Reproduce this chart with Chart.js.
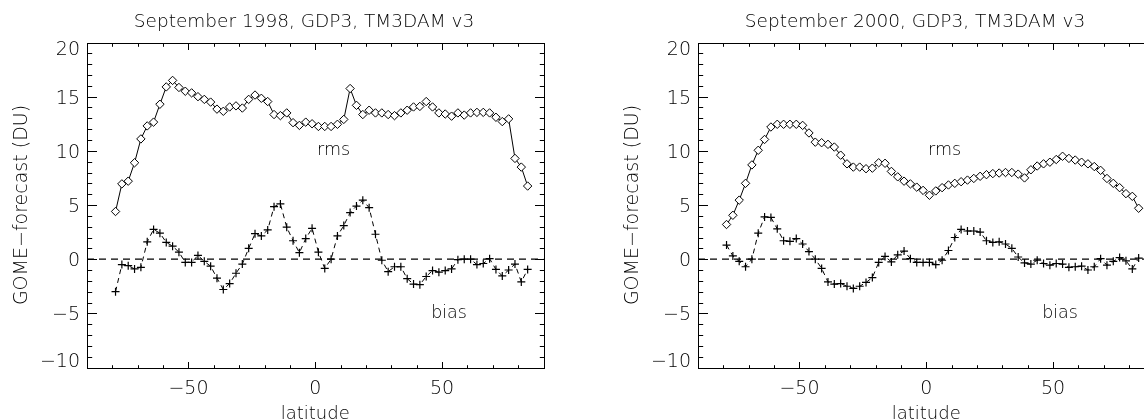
<!DOCTYPE html>
<html>
<head>
<meta charset="utf-8">
<script src="https://cdn.jsdelivr.net/npm/chart.js@4.4.0/dist/chart.umd.min.js"></script>
<style>
  html, body { margin: 0; padding: 0; background: #fff; overflow: hidden; }
  #wrap { position: relative; width: 1144px; height: 419px; overflow: hidden; }
  .panel { position: absolute; top: 0; width: 608px; height: 440px; }
  #p1 { left: 0; }
  #p2 { left: 611px; }
</style>
</head>
<body>
<div id="wrap">
  <div class="panel" id="p1"><canvas id="c1" width="608" height="440"></canvas></div>
  <div class="panel" id="p2"><canvas id="c2" width="608" height="440"></canvas></div>
</div>
<script>
// ── data ────────────────────────────────────────────────
const latitude = [-78.75, -76.25, -73.75, -71.25, -68.75, -66.25, -63.75, -61.25, -58.75, -56.25,
  -53.75, -51.25, -48.75, -46.25, -43.75, -41.25, -38.75, -36.25, -33.75, -31.25,
  -28.75, -26.25, -23.75, -21.25, -18.75, -16.25, -13.75, -11.25, -8.75, -6.25,
  -3.75, -1.25, 1.25, 3.75, 6.25, 8.75, 11.25, 13.75, 16.25, 18.75,
  21.25, 23.75, 26.25, 28.75, 31.25, 33.75, 36.25, 38.75, 41.25, 43.75,
  46.25, 48.75, 51.25, 53.75, 56.25, 58.75, 61.25, 63.75, 66.25, 68.75,
  71.25, 73.75, 76.25, 78.75, 81.25, 83.75];

const rms1998 = [4.4, 6.95, 7.2, 8.9, 11.1, 12.3, 12.65, 14.3, 15.9, 16.5,
  15.85, 15.5, 15.35, 15.0, 14.75, 14.5, 13.85, 13.65, 14.05, 14.15,
  13.95, 14.75, 15.15, 14.85, 14.55, 13.35, 13.25, 13.5, 12.6, 12.35,
  12.65, 12.5, 12.25, 12.25, 12.25, 12.45, 12.9, 15.75, 14.2, 13.35,
  13.75, 13.5, 13.5, 13.35, 13.25, 13.5, 13.75, 14.05, 14.1, 14.55,
  14.05, 13.5, 13.4, 13.2, 13.5, 13.3, 13.5, 13.55, 13.55, 13.5,
  13.1, 12.7, 12.95, 9.3, 8.5, 6.75];

const bias1998 = [-3.0, -0.5, -0.6, -0.9, -0.75, 1.6, 2.75, 2.4, 1.55, 1.2,
  0.65, -0.3, -0.3, 0.35, -0.2, -0.65, -1.75, -2.8, -2.25, -1.3,
  -0.45, 1.0, 2.35, 2.15, 2.7, 4.85, 5.1, 2.95, 1.7, 0.6,
  1.9, 2.85, 0.65, -0.85, 0.0, 2.15, 3.1, 4.3, 4.9, 5.45,
  4.75, 2.3, -0.1, -1.15, -0.7, -0.7, -1.8, -2.3, -2.35, -1.6,
  -1.05, -1.2, -1.05, -0.9, -0.05, 0.0, 0.0, -0.5, -0.4, 0.05,
  -0.95, -1.55, -1.0, -0.45, -2.1, -0.95];

const rms2000 = [3.2, 4.05, 5.45, 7.0, 8.7, 10.05, 11.05, 12.2, 12.45, 12.45,
  12.45, 12.45, 12.35, 11.65, 10.8, 10.75, 10.6, 10.35, 9.6, 8.8,
  8.5, 8.5, 8.35, 8.4, 8.9, 8.85, 8.1, 7.6, 7.2, 6.95,
  6.65, 6.35, 5.9, 6.3, 6.6, 6.85, 7.0, 7.15, 7.3, 7.45,
  7.65, 7.8, 7.9, 7.95, 8.0, 8.0, 7.85, 7.5, 8.25, 8.6,
  8.8, 8.95, 9.2, 9.5, 9.3, 9.15, 8.95, 8.8, 8.55, 8.2,
  7.45, 7.0, 6.6, 6.05, 5.8, 4.7];

const bias2000 = [1.3, 0.3, -0.2, -0.7, 0.0, 2.4, 3.9, 3.85, 2.8, 1.7,
  1.65, 1.9, 1.4, 0.7, 0.0, -0.85, -2.1, -2.3, -2.25, -2.5,
  -2.7, -2.5, -2.15, -1.7, -0.3, 0.25, -0.25, 0.4, 0.75, 0.05,
  -0.3, -0.3, -0.3, -0.5, -0.1, 0.8, 2.0, 2.75, 2.6, 2.6,
  2.5, 1.7, 1.55, 1.6, 1.4, 1.0, 0.2, -0.35, -0.45, -0.1,
  -0.4, -0.55, -0.4, -0.45, -0.75, -0.7, -0.65, -1.0, -0.7, 0.05,
  -0.55, -0.2, 0.15, -0.15, -0.9, 0.1];

const xTickValues = [-50, 0, 50];
const yTickValues = [-10, -5, 0, 5, 10, 15, 20];
const zeroLineX = [-90, 90];

// text labels placed in data coordinates (latitude, DU)
const rmsLabel = { text: "rms", lat: 0.7, du: 10 };
const biasLabel = { text: "bias", lat: 45.7, du: -5 };

// ── style ───────────────────────────────────────────────
const FONT = "'DejaVu Sans', sans-serif";
const WEIGHT = "200";
const INK = "#000";

function fmt(v) {
  return v < 0 ? "\u2212" + Math.abs(v) : String(v);
}

// box, inward IDL-style ticks, y labels and series names
const frameAndTicks = {
  id: "frameAndTicks",
  afterDatasetsDraw(chart) {
    const { ctx, chartArea: a, scales: { x, y } } = chart;
    const L = Math.round(a.left) + 0.5;
    const R = Math.round(a.right) + 0.5;
    const T = Math.round(a.top) + 0.5;
    const B = Math.round(a.bottom) + 0.5;

    ctx.save();
    ctx.strokeStyle = INK;
    ctx.lineWidth = 1;
    ctx.strokeRect(L, T, R - L, B - T);

    ctx.beginPath();
    // x ticks every 10 deg, major every 50
    for (let v = -80; v <= 80; v += 10) {
      const px = Math.round(x.getPixelForValue(v)) + 0.5;
      const len = v % 50 === 0 ? 6.5 : 3.3;
      ctx.moveTo(px, B); ctx.lineTo(px, B - len);
      ctx.moveTo(px, T); ctx.lineTo(px, T + len);
    }
    // y ticks every 1 DU, major every 5
    for (let v = -9; v <= 19; v += 1) {
      const py = Math.round(y.getPixelForValue(v)) + 0.5;
      const len = v % 5 === 0 ? 9.5 : 4.7;
      ctx.moveTo(L, py); ctx.lineTo(L + len, py);
      ctx.moveTo(R, py); ctx.lineTo(R - len, py);
    }
    ctx.stroke();

    // y tick labels (end labels pulled inside the axis range)
    ctx.fillStyle = INK;
    ctx.font = WEIGHT + " 19px " + FONT;
    ctx.textAlign = "right";
    ctx.textBaseline = "middle";
    yTickValues.forEach(function (v) {
      let py = y.getPixelForValue(v) + 2;
      if (v === y.max) py += 6;
      if (v === y.min) py -= 7;
      ctx.fillText(fmt(v), a.left - 7, py);
    });

    ctx.font = WEIGHT + " 17.5px " + FONT;
    ctx.textAlign = "left";
    [rmsLabel, biasLabel].forEach(function (lb) {
      ctx.fillText(lb.text, x.getPixelForValue(lb.lat), y.getPixelForValue(lb.du));
    });
    ctx.restore();
  }
};

function makePanel(canvasId, title, rms, bias) {
  return new Chart(document.getElementById(canvasId), {
    type: "line",
    data: {
      datasets: [
        {
          label: "zero",
          data: zeroLineX.map(function (v) { return { x: v, y: 0 }; }),
          borderColor: INK,
          borderWidth: 1.1,
          borderDash: [7, 5],
          pointRadius: 0
        },
        {
          label: "bias",
          data: latitude.map(function (lat, i) { return { x: lat, y: bias[i] }; }),
          borderColor: INK,
          borderWidth: 1,
          borderDash: [5, 4],
          pointStyle: "cross",
          pointRadius: 4,
          pointBorderColor: INK,
          pointBorderWidth: 1.2
        },
        {
          label: "rms",
          data: latitude.map(function (lat, i) { return { x: lat, y: rms[i] }; }),
          borderColor: INK,
          borderWidth: 1,
          pointStyle: "rectRot",
          pointRadius: 4.2,
          pointBackgroundColor: "#fff",
          pointBorderColor: INK,
          pointBorderWidth: 1
        }
      ]
    },
    options: {
      responsive: false,
      animation: false,
      devicePixelRatio: 1,
      layout: { padding: 0, autoPadding: false },
      plugins: {
        legend: { display: false },
        tooltip: { enabled: false },
        title: {
          display: true,
          text: title,
          color: INK,
          font: { family: FONT, size: 18.5, weight: WEIGHT },
          padding: { top: 11, bottom: 9.3 }
        }
      },
      scales: {
        x: {
          type: "linear",
          min: -90,
          max: 90,
          afterBuildTicks: function (s) { s.ticks = xTickValues.map(function (v) { return { value: v }; }); },
          afterFit: function (s) { s.height = 440 - 367.5; },
          grid: { display: false, drawTicks: false },
          border: { display: false },
          ticks: {
            color: INK,
            font: { family: FONT, size: 19, weight: WEIGHT },
            padding: 10,
            maxRotation: 0,
            autoSkip: false,
            callback: function (v) { return fmt(v); }
          },
          title: {
            display: true,
            text: "latitude",
            color: INK,
            font: { family: FONT, size: 18, weight: WEIGHT },
            padding: { top: 0, bottom: 14.5 }
          }
        },
        y: {
          type: "linear",
          min: -10,
          max: 20,
          afterFit: function (s) { s.width = 87; },
          grid: { display: false, drawTicks: false },
          border: { display: false },
          ticks: { display: false },
          title: {
            display: true,
            text: "GOME\u2212forecast (DU)",
            color: INK,
            font: { family: FONT, size: 19, weight: WEIGHT },
            padding: { top: 10.3, bottom: 0 }
          }
        },
        y2: {
          type: "linear",
          position: "right",
          min: 0,
          max: 1,
          afterFit: function (s) { s.width = 608 - 543.5; },
          grid: { display: false, drawTicks: false },
          border: { display: false },
          ticks: { display: false }
        }
      }
    },
    plugins: [frameAndTicks]
  });
}

makePanel("c1", "September 1998, GDP3, TM3DAM v3", rms1998, bias1998);
makePanel("c2", "September 2000, GDP3, TM3DAM v3", rms2000, bias2000);
</script>
</body>
</html>
